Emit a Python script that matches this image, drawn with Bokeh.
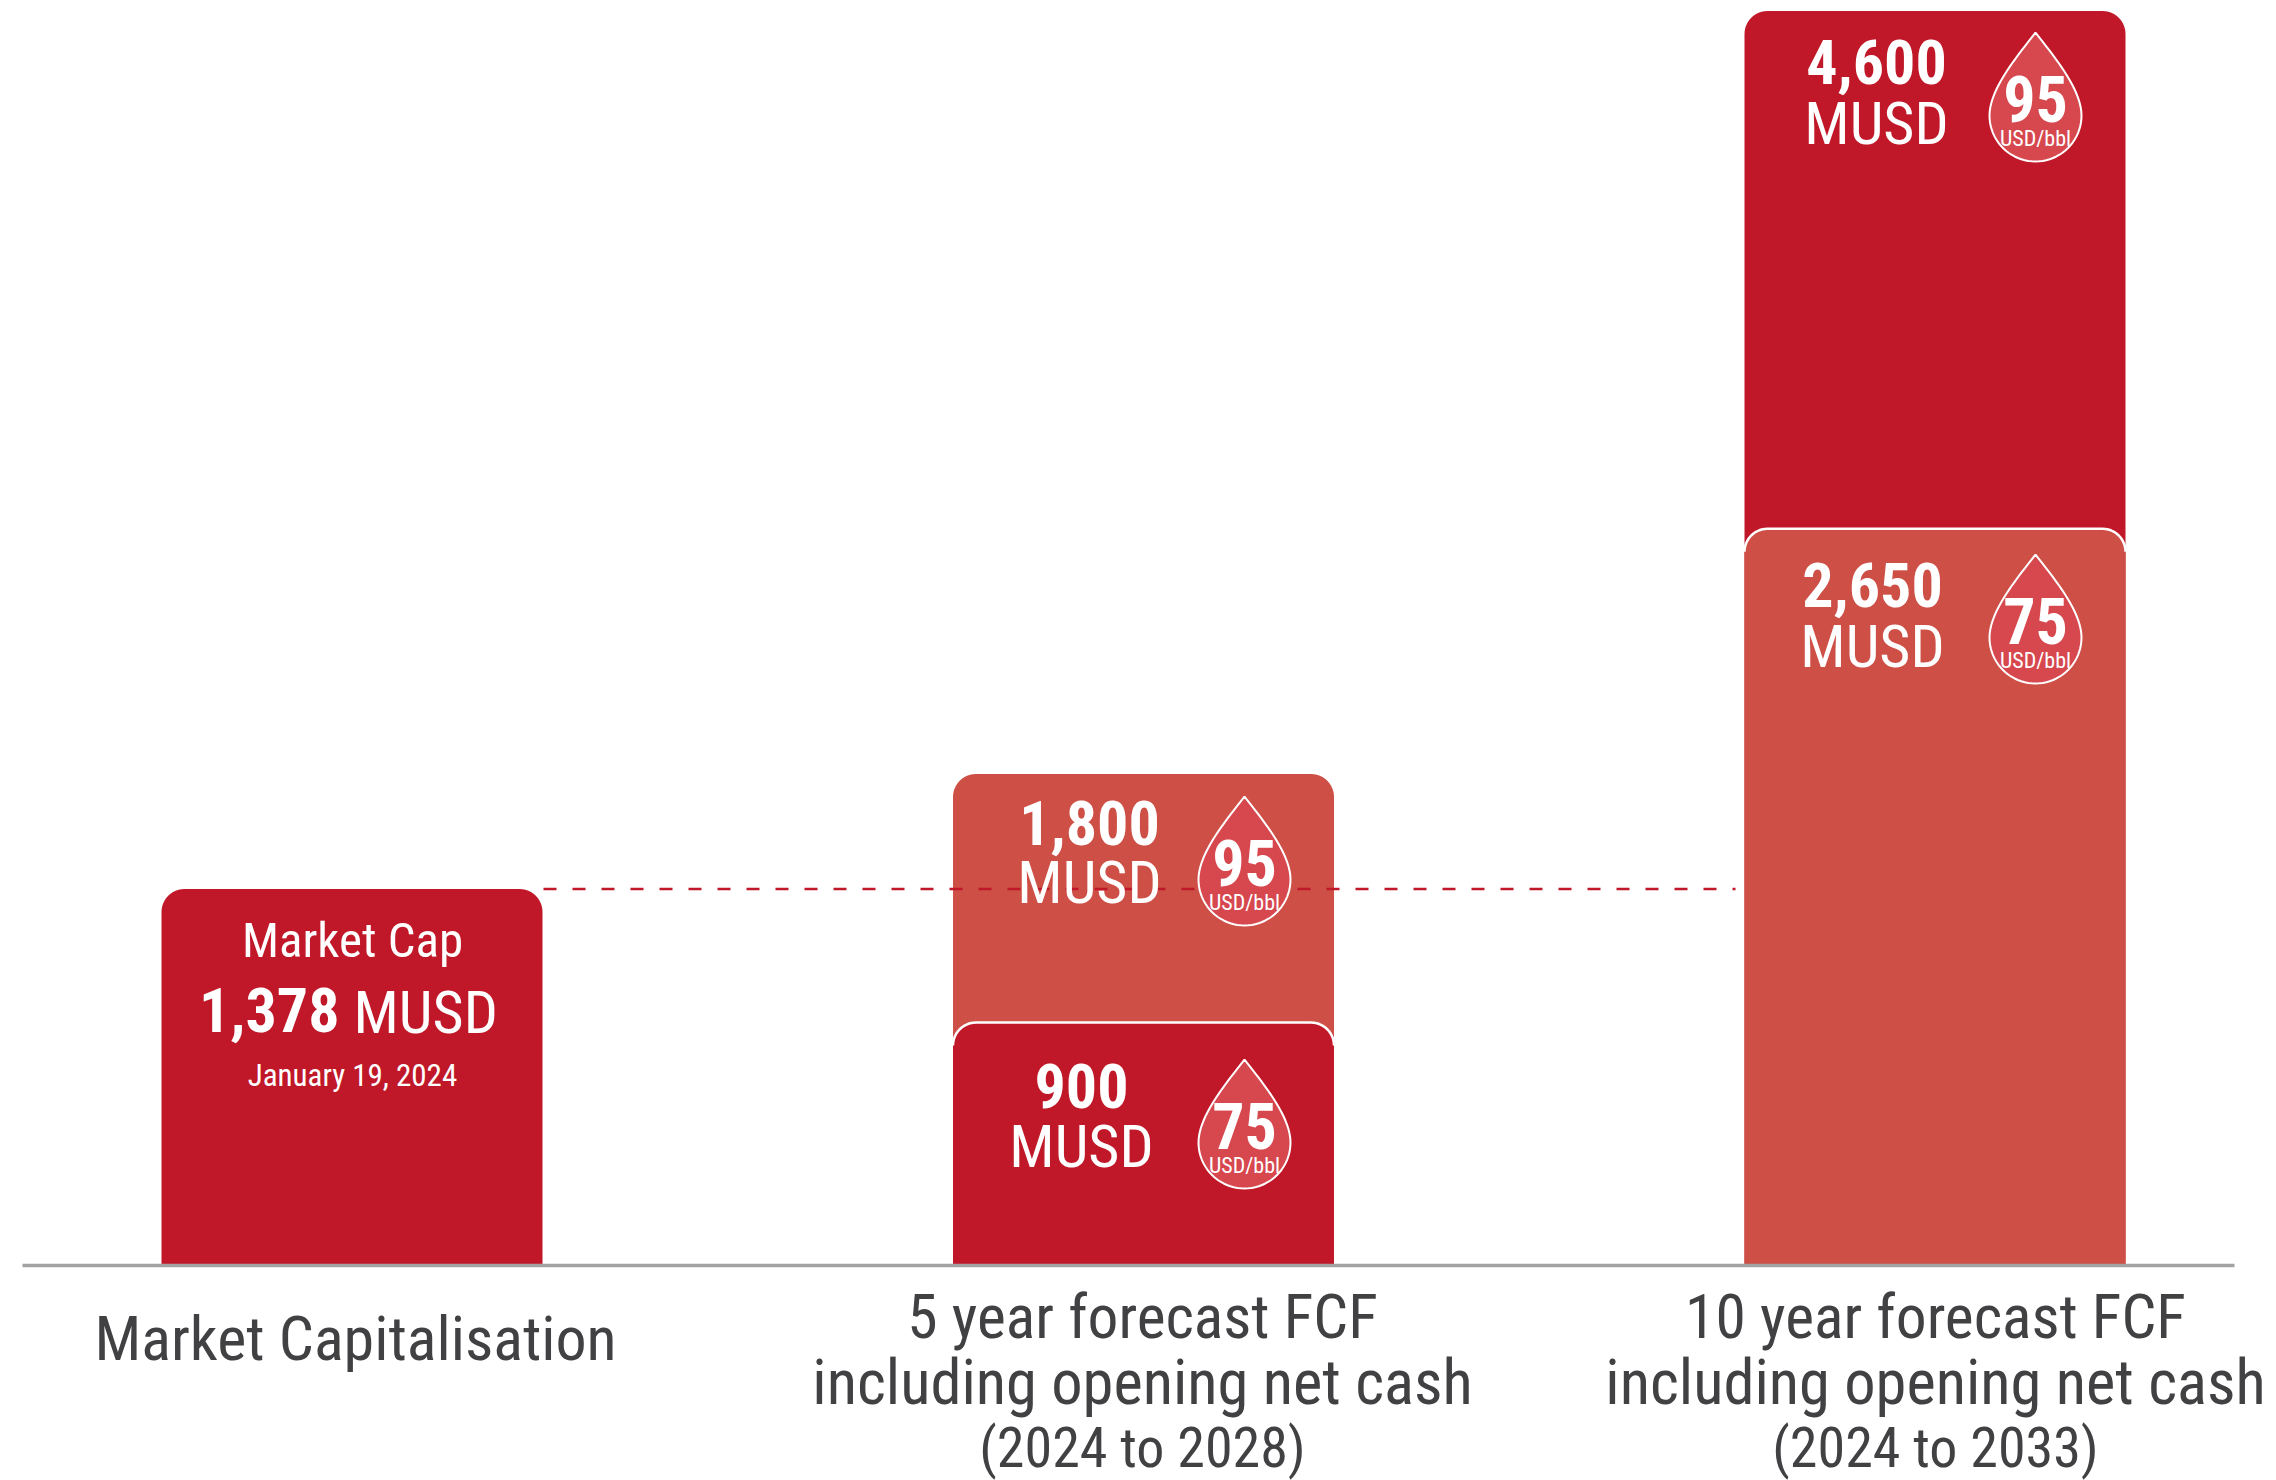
import math
from bokeh.plotting import figure
from bokeh.models import Range1d, LinearAxis, FixedTicker
from bokeh.core.properties import value
from bokeh.embed import file_html
from bokeh.resources import INLINE

# ---- data ----
categories = ["Market Capitalisation", "5 year forecast FCF", "10 year forecast FCF"]
market_cap = [1378]
forecast_75 = [900, 2650]
forecast_95 = [1800, 4600]
# heights at which the 75 USD/bbl bars are actually drawn in the picture
drawn_75 = [888, 2700]
oil_prices = ["75", "95"]
reference_value = 1378
category_lines = [
    ["Market Capitalisation"],
    ["5 year forecast FCF", "including opening net cash", "(2024 to 2028)"],
    ["10 year forecast FCF", "including opening net cash", "(2024 to 2033)"],
]

# ---- canvas geometry (page px) ----
W, H = 2276, 1480
BASE_PX = 1264
PX_PER_UNIT = 0.2725
DARK, LIGHT, DROP = "#c01828", "#cd4f45", "#d6474e"
FONT = "Roboto Condensed"
GREY = "#414042"
BASELINE_SHIFT = 0.33


def Y(px):
    return (BASE_PX - px) / PX_PER_UNIT


p = figure(width=W, height=H, output_backend="svg", toolbar_location=None,
           x_range=Range1d(0, W), y_range=Range1d(Y(H), Y(0)),
           min_border=0, outline_line_color=None, x_axis_type=None, y_axis_type=None)
p.grid.visible = False

centers = [351.5, 1143.0, 1934.5]
BAR_W = 381
R = 23


def rounded_top(cx, v):
    left, right = cx - BAR_W / 2, cx + BAR_W / 2
    top = BASE_PX - v * PX_PER_UNIT
    pts = []
    for i in range(13):
        a = math.pi - i / 12 * math.pi / 2
        pts.append((left + R + R * math.cos(a), top + R - R * math.sin(a)))
    for i in range(13):
        a = math.pi / 2 - i / 12 * math.pi / 2
        pts.append((right - R + R * math.cos(a), top + R - R * math.sin(a)))
    return pts


def bar(cx, v, color, outline=False):
    pts = rounded_top(cx, v)
    xs = [cx - BAR_W / 2] + [a for a, _ in pts] + [cx + BAR_W / 2]
    ys = [BASE_PX] + [b for _, b in pts] + [BASE_PX]
    p.patch(xs, [Y(b) for b in ys], fill_color=color, line_color=None)
    if outline:
        p.line([a for a, _ in pts], [Y(b) for _, b in pts],
               line_color="white", line_width=2.5)


def drop(tx, ty):
    r, h = 46, 83
    right = []
    for i in range(21):
        t = i / 20
        u = 1 - t
        bx = 3 * u * u * t * 15 + 3 * u * t * t * r + t ** 3 * r
        by = 3 * u * u * t * 20 + 3 * u * t * t * 55 + t ** 3 * h
        right.append((bx, by))
    belly = [(r * math.cos(i / 40 * math.pi), h + r * math.sin(i / 40 * math.pi)) for i in range(1, 40)]
    left = [(-a, b) for a, b in reversed(right)]
    pts = right + belly + left
    p.patch([tx + a for a, _ in pts], [Y(ty + b) for _, b in pts],
            fill_color=DROP, line_color="white", line_width=2)


def text(x, y, s, size, bold=False, color="white", align="center"):
    p.text([x], [Y(y - BASELINE_SHIFT * size)], text=[s], text_font=value(FONT),
           text_font_size=f"{size}px",
           text_font_style="bold" if bold else "normal", text_color=color,
           text_align=align, text_baseline="alphabetic")


# bars
bar(centers[0], market_cap[0], DARK)
bar(centers[1], forecast_95[0], LIGHT)
bar(centers[2], forecast_95[1], DARK)

# reference line
p.line([543, 1735], [reference_value, reference_value], line_color=DARK,
       line_width=2.5, line_dash="13 16")

bar(centers[1], drawn_75[0], DARK, outline=True)
bar(centers[2], drawn_75[1], LIGHT, outline=True)

# baseline axis
axis = LinearAxis(ticker=FixedTicker(ticks=[]), fixed_location=Y(1265), bounds=(22, 2234),
                  axis_line_color="#a3a3a3", axis_line_width=3.3,
                  major_tick_line_color=None, minor_tick_line_color=None,
                  major_label_text_color=None)
p.add_layout(axis, "below")

# market cap card
text(352, 956, "Market Cap", 49)
text(339, 1030, f"{market_cap[0]:,}", 62, bold=True, align="right")
text(353, 1032, "MUSD", 60, align="left")
text(352, 1085, "January 19, 2024", 31)

# value labels and drops
labels = [
    (forecast_75[0], oil_prices[0], 1081, 1106, 1166, 1244, 1059),
    (forecast_95[0], oil_prices[1], 1089, 843, 902, 1244, 796),
    (forecast_75[1], oil_prices[0], 1872, 605, 666, 2035, 554),
    (forecast_95[1], oil_prices[1], 1876, 82, 143, 2035, 32),
]
for val, oil, tx, y1, y2, dx, dy in labels:
    text(tx, y1, f"{val:,}", 62, bold=True)
    text(tx, y2, "MUSD", 60)
    drop(dx, dy)
    text(dx, dy + 88, oil, 64, bold=True)
    text(dx, dy + 113, "USD/bbl", 22)

# category labels
text(355, 1358, category_lines[0][0], 62, color=GREY)
for cx, lines in zip([1142, 1935], category_lines[1:]):
    for line, y, size in zip(lines, [1337, 1403, 1466], [61.5, 62.5, 56]):
        text(cx, y, line, size, color=GREY)

open("out.html", "w").write(file_html(p, INLINE))
